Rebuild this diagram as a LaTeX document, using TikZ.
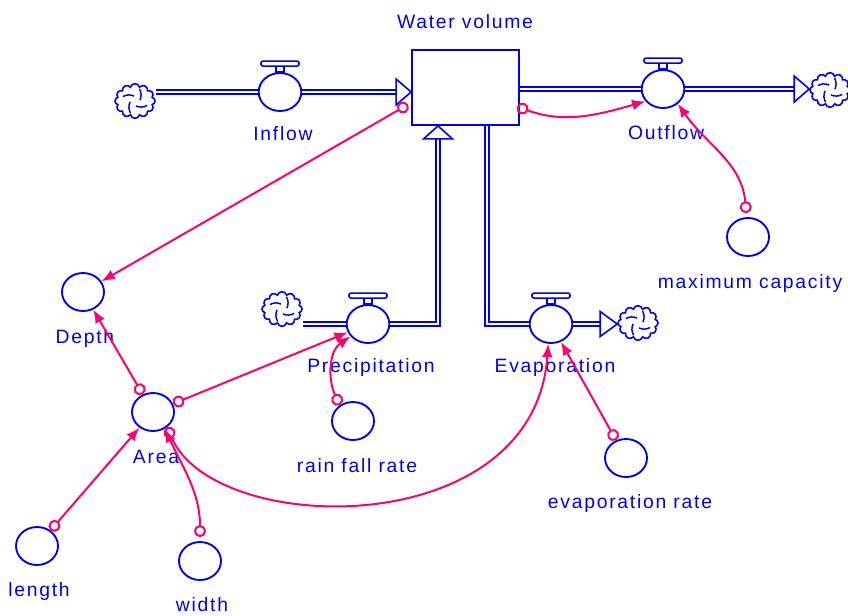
\documentclass[tikz,border=0pt]{standalone}
\usepackage{fontspec}
\setmainfont{Liberation Sans}[LetterSpace=9]
\usetikzlibrary{arrows.meta,shapes.geometric,shapes.symbols,calc}
\definecolor{vblue}{RGB}{0,0,240}
\definecolor{vpink}{RGB}{255,0,110}
\tikzset{
 aux/.style={ellipse, draw=vblue, line width=1.4pt, minimum width=31.5pt, minimum height=28.5pt, inner sep=0pt},
 valveshape/.style={ellipse, draw=vblue, fill=white, line width=1.4pt, minimum width=32pt, minimum height=28.5pt, inner sep=0pt},
 valvepart/.style={draw=vblue, fill=white, line width=1.2pt},
 lbl/.style={text=vblue, font=\fontsize{14.5}{16}\selectfont, inner sep=0pt},
 pipe/.style={draw=vblue, line width=1.2pt, double=white, double distance=2pt},
 pipehead/.style={draw=vblue, fill=white, line width=1.2pt, line join=miter},
 link/.style={draw=vpink, line width=1.5pt, {Circle[open,length=9pt,width=9pt]}-{Latex[length=10pt,width=8pt]}},
 cloudsym/.style={cloud, cloud puffs=12, aspect=1.1, draw=vblue, line width=1.2pt, minimum width=30pt, minimum height=26pt, inner sep=0pt},
}
\newcommand\cloudswirl[1]{\foreach \a in {20,110,200,290}{\draw[vblue, line width=1.1pt] ($(#1.center)+(\a:13)$) to[bend left=25] ($(#1.center)+(\a+60:5)$);}}
\newcommand\valvetop[1]{%
 \draw[valvepart] ($(#1.north)+(-4,-6)$) rectangle ($(#1.north)+(4,0)$);
 \draw[valvepart, rounded corners=1.5pt] ($(#1.north)+(-19,-11)$) rectangle ($(#1.north)+(19,-6)$);}
\begin{document}
\begin{tikzpicture}[x=0.75pt,y=-0.75pt]
\useasboundingbox (0,0) rectangle (848,615);

% stock
\node[draw=vblue, line width=1.4pt, minimum width=80.25pt, minimum height=56.25pt, inner sep=0pt] (stock) at (465.5,87.5) {};
\node[lbl] (stocklbl) at (465,22) {Water volume};

% clouds
\node[cloudsym] (c1) at (135,101) {};
\node[cloudsym] (c2) at (830,90) {};
\node[cloudsym] (c3) at (282,309) {};
\node[cloudsym] (c4) at (638,323) {};
\cloudswirl{c1}\cloudswirl{c2}\cloudswirl{c3}\cloudswirl{c4}

% valves
\node[valveshape] (inflow) at (280,92) {};
\node[valveshape] (outflow) at (663,89) {};
\node[valveshape] (precip) at (368,324) {};
\node[valveshape] (evap) at (551,324) {};
\valvetop{inflow}\valvetop{outflow}\valvetop{precip}\valvetop{evap}

% pipes
\draw[pipe] (inflow.west -| c1.east) -- (inflow.west);
\draw[pipe] (inflow.east) -- ($(inflow.east -| stock.west)+(-15,0)$);
\draw[pipehead] ($(inflow.east -| stock.west)+(-15,-13)$) -- (inflow.east -| stock.west) -- ($(inflow.east -| stock.west)+(-15,13)$) -- cycle;

\draw[pipe] (outflow.west -| stock.east) -- (outflow.west);
\draw[pipe] (outflow.east) -- ($(outflow.east -| c2.west)+(-15,0)$);
\draw[pipehead] ($(outflow.east -| c2.west)+(-15,-13)$) -- (outflow.east -| c2.west) -- ($(outflow.east -| c2.west)+(-15,13)$) -- cycle;

\coordinate (ptop) at ($(stock.south)+(-27.5,0)$);
\draw[pipe] (precip.west -| c3.east) -- (precip.west);
\draw[pipe] (precip.east) -- (precip.east -| ptop) -- ($(ptop)+(0,13)$);
\draw[pipehead] ($(ptop)+(-14.5,13)$) -- (ptop) -- ($(ptop)+(14.5,13)$) -- cycle;

\coordinate (etop) at ($(stock.south)+(21.5,0)$);
\draw[pipe] (etop) -- (etop |- evap.west) -- (evap.west);
\draw[pipe] (evap.east) -- ($(evap.east -| c4.west)+(-17,0)$);
\draw[pipehead] ($(evap.east -| c4.west)+(-17,-12.5)$) -- (evap.east -| c4.west) -- ($(evap.east -| c4.west)+(-17,12.5)$) -- cycle;

% auxiliaries
\node[aux] (depth) at (83,292) {};
\node[aux] (area) at (153,412) {};
\node[aux] (length) at (37,546) {};
\node[aux] (width) at (200,561) {};
\node[aux] (rain) at (353,421) {};
\node[aux] (evr) at (626,458) {};
\node[aux] (maxcap) at (748,237) {};

% labels
\node[lbl] (inflowlbl) at (283,134) {Inflow};
\node[lbl] (outflowlbl) at (666,133) {Outflow};
\node[lbl] (maxcaplbl) at (750,283) {maximum capacity};
\node[lbl] (depthlbl) at (85,338) {Depth};
\node[lbl] (preciplbl) at (371,367) {Precipitation};
\node[lbl] (evaplbl) at (555,367) {Evaporation};
\node[lbl] (arealbl) at (156,457) {Area};
\node[lbl] (rainlbl) at (357,466) {rain fall rate};
\node[lbl] (evrlbl) at (630,503) {evaporation rate};
\node[lbl] (lengthlbl) at (39,591) {length};
\node[lbl] (widthlbl) at (202,605) {width};

% links
\draw[link] ($(stock.west)+(-3,17)$) -- (depth);
\draw[link] ($(stock.east)+(-3,19)$) to[out=-20,in=196] (outflow.215);
\draw[link] ($(maxcap.95)+(0,-4)$) to[out=95,in=-55] (outflow.-45);
\draw[link] (area) -- (depth);
\draw[link] (area) -- (precip);
\draw[link] (area.-47) to[out=-67,in=-94,out distance=90pt,in distance=150pt] (evap.-98);
\draw[link] (length) -- (area);
\draw[link] ($(width.north)+(0,-4)$) to[out=90,in=-65] (area.-55);
\draw[link] (rain.130) to[out=115,in=215] (precip.215);
\draw[link] (evr) -- (evap);
\end{tikzpicture}
\end{document}
